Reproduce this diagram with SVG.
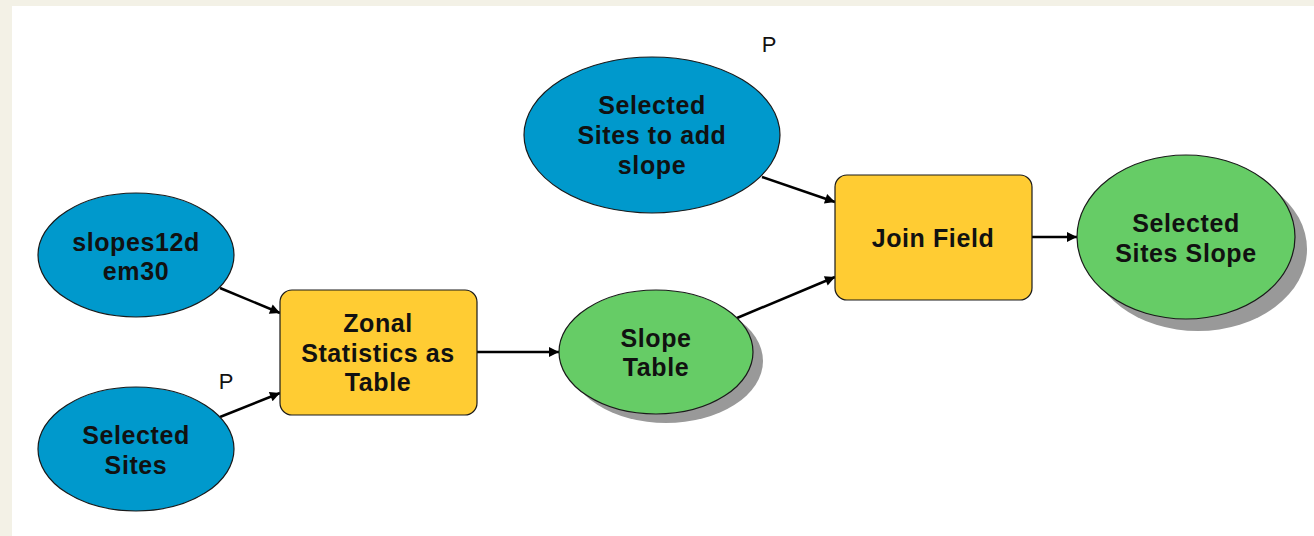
<svg xmlns="http://www.w3.org/2000/svg" width="1314" height="536" viewBox="0 0 1314 536">
<defs>
<style>
.bg{fill:#f3f1e6}
.panel{fill:#ffffff}
.data{fill:#0099cc;stroke:#1a1a1a;stroke-width:1.2}
.out{fill:#66cc66;stroke:#1a1a1a;stroke-width:1.2}
.tool{fill:#ffcc33;stroke:#1a1a1a;stroke-width:1.2}
.shadow{fill:#999999}
.lbl{font-family:"Liberation Sans",Arial,sans-serif;font-weight:bold;font-size:25px;fill:#111111;text-anchor:middle;letter-spacing:0.6px}
.p{font-family:"Liberation Sans",Arial,sans-serif;font-size:22px;fill:#111111;text-anchor:middle}
.conn{stroke:#000000;stroke-width:2.5;fill:none;marker-end:url(#arrow)}
</style>
<marker id="arrow" viewBox="0 0 10 10" refX="10" refY="5" markerWidth="5" markerHeight="4" markerUnits="strokeWidth" orient="auto">
<path d="M0,0 L10,5 L0,10 z" fill="#000000"/>
</marker>
</defs>
<rect class="bg" x="0" y="0" width="1314" height="536"/>
<rect class="panel" x="12" y="6" width="1302" height="530"/>

<g id="connectors">
<line class="conn" x1="220" y1="288" x2="280" y2="313"/>
<line class="conn" x1="220" y1="417" x2="280" y2="393"/>
<line class="conn" x1="477" y1="352" x2="559" y2="352"/>
<line class="conn" x1="762" y1="177" x2="835" y2="202"/>
<line class="conn" x1="737" y1="318" x2="835" y2="277"/>
<line class="conn" x1="1032" y1="237" x2="1077" y2="237"/>
</g>

<g id="slopes12dem30">
<ellipse class="data" cx="136" cy="255" rx="98" ry="62"/>
<text class="lbl" x="136" y="251">slopes12d</text>
<text class="lbl" x="136" y="280">em30</text>
</g>

<g id="selected-sites">
<ellipse class="data" cx="136" cy="449" rx="98" ry="62"/>
<text class="lbl" x="136" y="444">Selected</text>
<text class="lbl" x="136" y="474">Sites</text>
<text class="p" x="226" y="389">P</text>
</g>

<g id="zonal-statistics">
<rect class="tool" x="280" y="290" width="197" height="125" rx="12"/>
<text class="lbl" x="378" y="332">Zonal</text>
<text class="lbl" x="378" y="362">Statistics as</text>
<text class="lbl" x="378" y="391">Table</text>
</g>

<g id="slope-table">
<ellipse class="shadow" cx="666" cy="361" rx="97" ry="62"/>
<ellipse class="out" cx="656" cy="352" rx="97" ry="62"/>
<text class="lbl" x="656" y="347">Slope</text>
<text class="lbl" x="656" y="376">Table</text>
</g>

<g id="selected-sites-to-add-slope">
<ellipse class="data" cx="652" cy="135" rx="128" ry="78"/>
<text class="lbl" x="652" y="114">Selected</text>
<text class="lbl" x="652" y="144">Sites to add</text>
<text class="lbl" x="652" y="174">slope</text>
<text class="p" x="769" y="52">P</text>
</g>

<g id="join-field">
<rect class="tool" x="835" y="175" width="197" height="125" rx="12"/>
<text class="lbl" x="933" y="247">Join Field</text>
</g>

<g id="selected-sites-slope">
<ellipse class="shadow" cx="1198" cy="249" rx="109" ry="82"/>
<ellipse class="out" cx="1186" cy="237" rx="109" ry="82"/>
<text class="lbl" x="1186" y="232">Selected</text>
<text class="lbl" x="1186" y="262">Sites Slope</text>
</g>
</svg>
